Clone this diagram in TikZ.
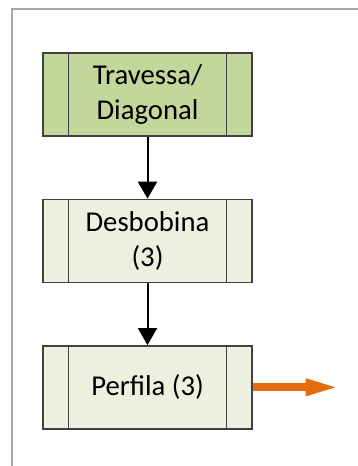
\documentclass[tikz,border=0pt]{standalone}
\usepackage{fontspec}
\setmainfont{Carlito}
\usetikzlibrary{arrows.meta,positioning}
\definecolor{StepGreen}{RGB}{196,215,155}
\definecolor{StepPale}{RGB}{235,241,222}
\definecolor{StepLine}{RGB}{64,64,64}
\definecolor{FrameGray}{RGB}{166,166,166}
\definecolor{OutOrange}{RGB}{228,108,10}

\tikzset{
  procbox/.style={draw=StepLine,line width=0.7pt,fill=StepPale,
    minimum width=104.5pt,minimum height=41.5pt,align=center,
    font=\fontsize{14.35}{17.5}\selectfont,
    path picture={
      \draw[StepLine,line width=0.7pt]
        ([xshift=12.75pt]path picture bounding box.north west) --
        ([xshift=12.75pt]path picture bounding box.south west)
        ([xshift=-12.75pt]path picture bounding box.north east) --
        ([xshift=-12.75pt]path picture bounding box.south east);
    }},
  flow/.style={-{Triangle[length=8.5pt,width=9.5pt]},line width=1pt,black},
}

\begin{document}
\begin{tikzpicture}[x=0.5pt,y=-0.5pt,node distance=31pt]
\useasboundingbox (0,0) rectangle (358,466);
% frame
\draw[FrameGray,line width=0.9pt] (12,480) -- (12,9) -- (370,9);

\node[procbox,fill=StepGreen] (travessa) at (147.5,94.5) {Travessa/\\Diagonal};
\node[procbox,below=of travessa] (desbobina) {Desbobina\\(3)};
\node[procbox,below=of desbobina] (perfila) {Perfila (3)};
\coordinate[right=44pt of perfila.east] (saida);

\draw[flow] (travessa) -- (desbobina);
\draw[flow] (desbobina) -- (perfila);
\draw[-{Triangle[length=17.5pt,width=7.5pt]},line width=4pt,OutOrange]
  (perfila.east) -- (saida);
\end{tikzpicture}
\end{document}
